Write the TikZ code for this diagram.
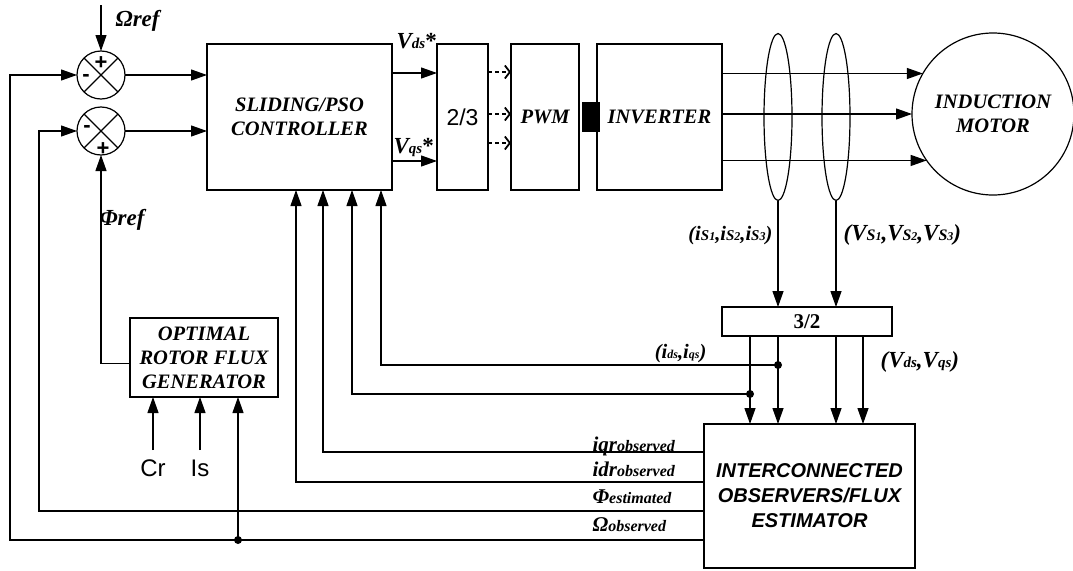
\documentclass[tikz,border=0pt]{standalone}
\usepackage{fontspec}
\setmainfont{Liberation Serif}
\setsansfont{Liberation Sans}
\usetikzlibrary{arrows.meta,calc,shapes.geometric}
\newcommand{\Lf}{\fontsize{20.5}{24}\selectfont\bfseries\itshape}
\newcommand{\Kf}{\fontsize{23}{26}\selectfont\bfseries\itshape}
\newcommand{\Sf}{\fontsize{12}{13}\selectfont}
\newcommand{\Tf}{\fontsize{15}{16}\selectfont}
\newcommand{\Mf}{\fontsize{15}{16}\selectfont}
\newcommand{\Of}{\fontsize{21}{24}\selectfont\bfseries\itshape}
\newcommand{\Uf}{\fontsize{16}{17}\selectfont}
\begin{document}
\begin{tikzpicture}[x=1pt,y=-1pt, line width=1.2pt,
  box/.style={draw, rectangle, inner sep=0pt, outer sep=0pt},
  sumc/.style={draw, circle, minimum size=48pt, inner sep=0pt, outer sep=0pt},
  arr/.style={-{Triangle[length=16pt,width=11pt]}},
  darr/.style={dash pattern=on 4pt off 3pt, -{Straight Barb[length=5pt,width=13pt,line width=1.8pt]}},
  dot/.style={circle, fill, inner sep=0pt, minimum size=8pt},
  bt/.style={font=\Lf, align=center},
  lbl/.style={font=\Lf, inner sep=0pt},
  klbl/.style={font=\Kf, inner sep=0pt},
  sgn/.style={font=\sffamily\bfseries\fontsize{22}{22}\selectfont, inner sep=0pt},
]
\useasboundingbox (0,0) rectangle (1073,570);

% blocks
\node[box, bt, minimum width=185pt, minimum height=146pt] (ctrl) at (299.5,117) {SLIDING/PSO\\CONTROLLER};
\node[box, minimum width=51pt, minimum height=146pt, font=\sffamily\fontsize{23}{24}\selectfont] (conv23) at (462.5,117) {2/3};
\node[box, bt, minimum width=68pt, minimum height=146pt] (pwm) at (545,117) {PWM};
\node[box, bt, minimum width=125pt, minimum height=146pt] (inv) at (659.5,117) {INVERTER};
\node[fill=black, minimum width=18pt, minimum height=30pt, inner sep=0pt, outer sep=0pt] (dcl) at (591,117) {};
\node[draw, circle, minimum size=162pt, inner sep=0pt, outer sep=0pt, bt] (motor) at (993,114) {INDUCTION\\MOTOR};
\node[draw, ellipse, minimum width=28pt, minimum height=167pt, inner sep=0pt, outer sep=0pt] (ell1) at (778,117) {};
\node[draw, ellipse, minimum width=28pt, minimum height=167pt, inner sep=0pt, outer sep=0pt] (ell2) at (836,117) {};
\node[box, minimum width=170pt, minimum height=29pt, font=\fontsize{21}{22}\selectfont\bfseries] (conv32) at (807,321.5) {3/2};
\node[box, minimum width=211pt, minimum height=144pt, align=center, font=\sffamily\bfseries\itshape\fontsize{20}{25}\selectfont] (obs) at (809.5,496) {INTERCONNECTED\\OBSERVERS/FLUX\\ESTIMATOR};
\node[box, bt, minimum width=148pt, minimum height=79pt] (opt) at (204,357.5) {OPTIMAL\\ROTOR FLUX\\GENERATOR};

% summing junctions
\node[sumc] (sum1) at (101,75) {};
\node[sumc] (sum2) at (101,131) {};
\draw (sum1.north west) -- (sum1.south east) (sum1.north east) -- (sum1.south west);
\draw (sum2.north west) -- (sum2.south east) (sum2.north east) -- (sum2.south west);
\node[sgn] (s1p) at ($(sum1.center)+(0,-12)$) {+};
\node[sgn] (s1m) at ($(sum1.center)+(-15,3)$) {-};
\node[sgn] (s2m) at ($(sum2.center)+(-14,-2)$) {-};
\node[sgn] (s2p) at ($(sum2.center)+(2,18)$) {+};

% reference input
\coordinate (omtop) at (101,5);
\draw[arr] (omtop) -- (sum1.north);
\node[klbl, anchor=base west] (omlbl) at (115,27) {Ωref};

% to controller
\draw[arr] (sum1.east) -- (sum1 -| ctrl.west);
\draw[arr] (sum2.east) -- (sum2 -| ctrl.west);

% controller outputs
\draw[arr] ($(ctrl.north east)+(0,29)$) -- ($(conv23.north west)+(0,29)$);
\draw[arr] ($(ctrl.south east)+(0,-29)$) -- ($(conv23.south west)+(0,-29)$);
\node[klbl, anchor=base west] (vds) at (396,48) {V{\Tf ds}\textup{*}};
\node[klbl, anchor=base west] (vqs) at (393,153) {V{\Tf qs}\textup{*}};

% dashed to PWM
\foreach \d in {28,70,99}
  \draw[darr] ($(conv23.north east)+(0,\d)$) -- ($(pwm.north west)+(0,\d)$);

% inverter to motor
\draw[arr] (inv.east |- motor.150) -- (motor.150);
\draw[arr] (inv.east |- motor.west) -- (motor.west);
\draw[arr] (inv.east |- motor.215) -- (motor.215);

% measurement
\draw[arr] (ell1.south) -- (ell1.south |- conv32.north);
\draw[arr] (ell2.south) -- (ell2.south |- conv32.north);
\node[lbl, anchor=base east] (isl) at (773,240) {(i{\Mf S}{\Sf 1},i{\Mf S}{\Sf 2},i{\Mf S}{\Sf 3})};
\node[klbl, anchor=base west] (vsl) at (843,240) {(V{\Uf S}{\Sf 1},V{\Uf S}{\Sf 2},V{\Uf S}{\Sf 3})};

% 3/2 outputs
\coordinate (o1) at ($(conv32.south west)+(28,0)$);
\coordinate (o2) at (ell1.south |- conv32.south);
\coordinate (o3) at (ell2.south |- conv32.south);
\coordinate (o4) at ($(conv32.south east)+(-29,0)$);
\draw[arr] (o1) -- (o1 |- obs.north);
\draw[arr] (o2) -- (o2 |- obs.north);
\draw[arr] (o3) -- (o3 |- obs.north);
\draw[arr] (o4) -- (o4 |- obs.north);
\node[dot] (j1) at ($(o2)+(0,29)$) {};
\node[dot] (j2) at ($(o1)+(0,58)$) {};
\node[lbl, anchor=base east] (idql) at (707,358) {(i{\Sf ds},i{\Sf qs})};
\node[klbl, anchor=base west] (vdql) at (880,367) {(V{\Tf ds},V{\Tf qs})};

% feedback to controller
\coordinate (c4) at ($(ctrl.south east)+(-11,0)$);
\coordinate (c3) at ($(ctrl.south west)+(145,0)$);
\coordinate (c2) at ($(ctrl.south west)+(116,0)$);
\coordinate (c1) at ($(ctrl.south west)+(89,0)$);
\draw[arr] (j1.center) -| (c4);
\draw[arr] (j2.center) -| (c3);
\coordinate (q1) at ($(obs.north west)+(0,28)$);
\coordinate (q2) at ($(obs.north west)+(0,58)$);
\coordinate (q3) at ($(obs.north west)+(0,87)$);
\coordinate (q4) at ($(obs.north west)+(0,116)$);
\draw[arr] (q1) -| (c2);
\draw[arr] (q2) -| (c1);
\coordinate (phiL) at (39,300);
\draw[arr] (q3) -| (phiL) |- (sum2.west);
\coordinate (omL) at (10,300);
\draw[arr] (q4) -| (omL) |- (sum1.west);
\node[font=\Of, inner sep=0pt, anchor=base west] (l1) at (592,451) {iqr{\Uf observed}};
\node[font=\Of, inner sep=0pt, anchor=base west] (l2) at (592,476) {idr{\Uf observed}};
\node[font=\Of, inner sep=0pt, anchor=base west] (l3) at (592,503) {Φ{\Uf estimated}};
\node[font=\Of, inner sep=0pt, anchor=base west] (l4) at (592,531) {Ω{\Uf observed}};

% flux generator
\coordinate (g3) at ($(opt.south)+(34,0)$);
\node[dot] (j3) at (g3 |- q4) {};
\draw[arr] (j3.center) -- (g3);
\coordinate (fr) at ($(opt.west)+(0,6)$);
\draw[arr] (fr) -| (sum2.south);
\node[klbl, anchor=base west] (phil) at (99,225) {Φref};
\node[font=\sffamily\fontsize{24}{25}\selectfont, anchor=north, inner xsep=0pt, inner ysep=9pt] (cr) at (153,450) {Cr};
\node[font=\sffamily\fontsize{24}{25}\selectfont, anchor=north, inner xsep=0pt, inner ysep=9pt] (is) at (200,450) {Is};
\draw[arr] (cr.north) -- (cr.north |- opt.south);
\draw[arr] (is.north) -- (is.north |- opt.south);
\end{tikzpicture}
\end{document}
